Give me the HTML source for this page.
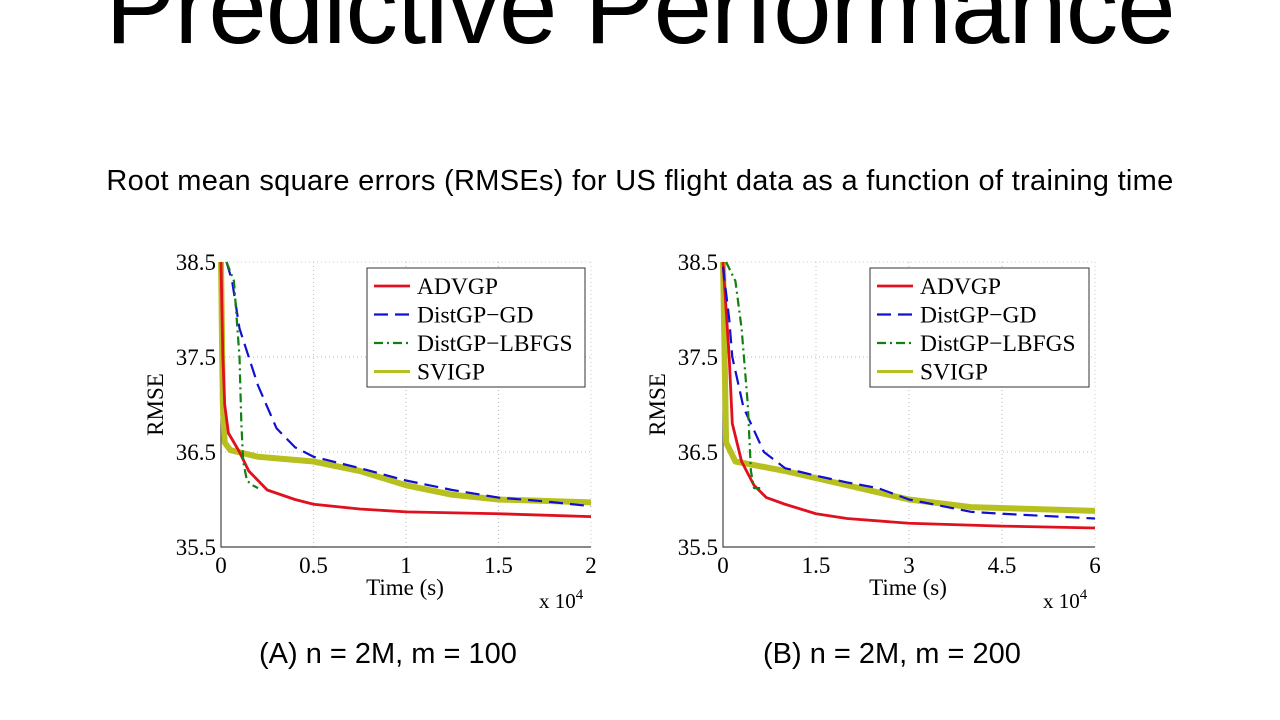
<!DOCTYPE html>
<html><head><meta charset="utf-8"><style>
body{margin:0;width:1280px;height:720px;background:#fff;overflow:hidden;position:relative;font-family:"Liberation Sans",sans-serif}
.t{position:absolute;white-space:nowrap;color:#000}
</style></head><body>
<div class="t" style="left:0;width:1280px;text-align:center;top:-52px;font-size:105px;letter-spacing:-1px">Predictive Performance</div>
<div class="t" style="left:0;width:1280px;text-align:center;top:165px;font-size:29px;letter-spacing:0.3px">Root mean square errors (RMSEs) for US flight data as a function of training time</div>
<div class="t" style="left:259px;top:638px;font-size:29px">(A) n = 2M, m = 100</div>
<div class="t" style="left:763px;top:638px;font-size:29px">(B) n = 2M, m = 200</div>
<svg id="svg" width="1280" height="720" style="position:absolute;left:0;top:0" font-family="Liberation Serif, serif"></svg>
<script>
const yTicks=[35.5,36.5,37.5,38.5];
const xTicksA=[0,0.5,1,1.5,2];
const xTicksB=[0,1.5,3,4.5,6];
const seriesNames=["ADVGP","DistGP\u2212GD","DistGP\u2212LBFGS","SVIGP"];
// Chart A (time x 1e4)
const advgpA_x=[0,0.01,0.02,0.04,0.1,0.15,0.25,0.4,0.5,0.75,1.0,1.5,2.0];
const advgpA_y=[38.5,37.5,37.0,36.7,36.5,36.3,36.1,36.0,35.95,35.9,35.87,35.85,35.82];
const gdA_x=[0.03,0.06,0.1,0.2,0.3,0.4,0.5,0.75,1.0,1.25,1.5,1.75,2.0];
const gdA_y=[38.5,38.3,37.8,37.2,36.75,36.55,36.45,36.33,36.2,36.1,36.02,35.98,35.93];
const lbA_x=[0.03,0.07,0.1,0.11,0.12,0.14,0.17,0.2];
const lbA_y=[38.5,38.3,37.5,36.8,36.4,36.2,36.15,36.12];
const svA_x=[0,0.01,0.02,0.05,0.2,0.5,0.75,1.0,1.25,1.5,2.0];
const svA_y=[38.5,37.0,36.6,36.52,36.45,36.4,36.3,36.15,36.05,36.0,35.97];
// Chart B
const advgpB_x=[0,0.1,0.15,0.3,0.5,0.7,1,1.5,2,3,4.5,6];
const advgpB_y=[38.5,37.5,36.8,36.4,36.15,36.02,35.95,35.85,35.8,35.75,35.72,35.7];
const gdB_x=[0,0.1,0.15,0.33,0.66,1.0,1.5,2,2.5,3,4,4.5,6];
const gdB_y=[38.45,37.9,37.5,36.97,36.5,36.33,36.25,36.18,36.12,36.0,35.87,35.85,35.8];
const lbB_x=[0.05,0.2,0.3,0.4,0.45,0.5,0.6];
const lbB_y=[38.5,38.3,37.8,37.0,36.3,36.12,36.12];
const svB_x=[0,0.05,0.2,1,2,3,4,6];
const svB_y=[38.5,36.6,36.4,36.3,36.15,36.0,35.92,35.88];

const NS="http://www.w3.org/2000/svg";
const svg=document.getElementById('svg');
function mk(tag,attrs,parent){const e=document.createElementNS(NS,tag);for(const k in attrs)e.setAttribute(k,attrs[k]);(parent||svg).appendChild(e);return e;}
const styles=[{c:"#e0101e",d:"",w:2.8},{c:"#1010d0",d:"14,7",w:2.2},{c:"#108010",d:"9,4,2,4",w:2.2},{c:"#b8c020",d:"",w:6}];
function chart(id,L,R,T,B,xmax,xTicks,series,legL,legR){
  const g=mk('g',{});
  
  
  const X=v=>L+(v/xmax)*(R-L), Y=v=>B-(v-35.5)/3*(B-T);
  xTicks.forEach(t=>{if(t>0&&t<xmax){const l=mk('line',{x1:X(t),x2:X(t),y1:T,y2:B,stroke:"#bbb","stroke-dasharray":"1,3"},g);}
    const tx=mk('text',{x:X(t),y:B+26,"font-size":23,"text-anchor":"middle"},g);tx.textContent=t;});
  yTicks.forEach(t=>{if(t>35.5&&t<38.5){const l=mk('line',{x1:L,x2:R,y1:Y(t),y2:Y(t),stroke:"#bbb","stroke-dasharray":"1,3"},g);}
    const tx=mk('text',{x:L-5,y:Y(t)+8,"font-size":23,"text-anchor":"end"},g);tx.textContent=t.toFixed(1);});
  mk('line',{x1:R,x2:R,y1:T,y2:B,stroke:"#ccc","stroke-dasharray":"1,3"},g);
  mk('line',{x1:L,x2:R,y1:T,y2:T,stroke:"#ccc","stroke-dasharray":"1,3"},g);
  const ax=mk('path',{d:`M${L},${T}V${B}H${R}`,fill:"none",stroke:"#444","stroke-width":1.2},g);
  
  [3,0,1,2].forEach(i=>{const s=series[i],st=styles[i];
    const p=mk('path',{d:s[0].map((x,j)=>(j?'L':'M')+X(x)+','+Y(s[1][j])).join(''),fill:"none",stroke:st.c,"stroke-width":st.w,"stroke-dasharray":st.d,"stroke-linejoin":"round"},g);
    });
  const xl=mk('text',{x:(L+R)/2-1,y:B+48,"font-size":23,"text-anchor":"middle"},g);xl.textContent="Time (s)";
  
  const ex=mk('text',{x:R-52,y:B+61,"font-size":21},g);ex.innerHTML='x 10<tspan dy="-9" font-size="15">4</tspan>';
  
  const yl=mk('text',{x:0,y:0,"font-size":23,"text-anchor":"middle",transform:`translate(${L-58},${(T+B)/2}) rotate(-90)`},g);yl.textContent="RMSE";
  
  const lg=mk('g',{},g);
  mk('rect',{x:legL,y:268,width:legR-legL,height:119,fill:"#fff",stroke:"#333"},lg);
  seriesNames.forEach((n,i)=>{const yy=286+i*28.5,st=styles[i];
    mk('line',{x1:legL+7,x2:legL+43,y1:yy,y2:yy,stroke:st.c,"stroke-width":Math.min(st.w,3),"stroke-dasharray":st.d},lg);
    const t=mk('text',{x:legL+50,y:yy+8,"font-size":23.5},lg);t.textContent=n;
    });
}
chart('chart-a',221,591,262,547,2,xTicksA,[[advgpA_x,advgpA_y],[gdA_x,gdA_y],[lbA_x,lbA_y],[svA_x,svA_y]],367,585);
chart('chart-b',723,1095,262,547,6,xTicksB,[[advgpB_x,advgpB_y],[gdB_x,gdB_y],[lbB_x,lbB_y],[svB_x,svB_y]],870,1089);
</script>
</body></html>
